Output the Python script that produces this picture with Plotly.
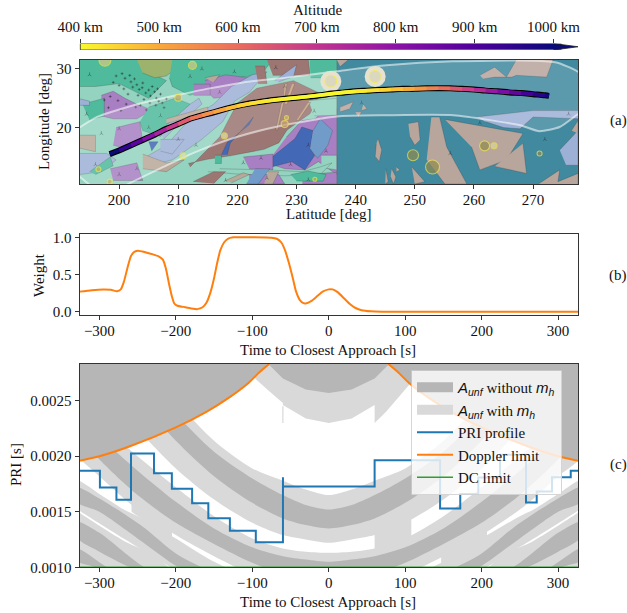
import plotly.graph_objects as go
from plotly.colors import sample_colorscale

W, H = 627, 613
FONT = "Liberation Serif"
AXC = "#333333"

# ---------- colour scale for altitude ----------
ALT_SCALE = [[0, "#f8f82e"], [0.08, "#fbd334"], [0.167, "#f9a83c"], [0.333, "#ea6c5e"],
             [0.5, "#c2358f"], [0.667, "#8c12a6"], [0.833, "#50009c"], [1, "#0a0a78"]]
CB_ALT = [400, 420, 440, 460, 480, 500, 520, 540, 560, 580, 600, 620, 640, 660, 680, 700, 720, 740, 760, 780,
          800, 820, 840, 860, 880, 900, 920, 940, 960, 980, 1000]
CB_TICKS = [400, 500, 600, 700, 800, 900, 1000]
CB_LABELS = ["400 km", "500 km", "600 km", "700 km", "800 km", "900 km", "1000 km"]

# ---------- panel (a): track ----------
TRK_LAT = [198.4, 200, 202, 204, 206, 208, 210, 212, 214, 216, 218, 220, 222, 224, 226, 228, 230, 232, 234, 236,
           238, 240, 242, 244, 246, 248, 250, 252, 254, 256, 258, 260, 262, 264, 266, 268, 270, 272, 272.7]
TRK_LON = [15.5, 16.1, 17.0, 17.9, 18.8, 19.8, 20.6, 21.5, 22.1, 22.6, 23.2, 23.7, 24.1, 24.4, 24.7, 24.9, 25.1,
           25.3, 25.5, 25.8, 26.0, 26.2, 26.3, 26.4, 26.5, 26.6, 26.6, 26.7, 26.7, 26.7, 26.6, 26.5, 26.3, 26.2,
           26.0, 25.9, 25.7, 25.5, 25.4]
TRK_ALT = [1000, 940, 880, 810, 750, 690, 630, 580, 540, 505, 475, 450, 430, 420, 410, 402, 400, 400, 400, 401,
           405, 415, 430, 450, 470, 500, 530, 565, 600, 640, 680, 730, 780, 830, 870, 920, 960, 990, 1000]

SWATH_UP_LAT = [193, 193.4, 196.2, 203.5, 209.7, 214.8, 221, 228.9, 236.8, 245.2, 256.5, 270, 274, 277.3, 278]
SWATH_UP_LON = [19.9, 20.1, 21.8, 24.1, 25.5, 26.6, 27.7, 28.6, 29.6, 30.6, 31.3, 31.4, 31.1, 29.7, 29.2]
SWATH_LO_LAT = [278, 277.3, 274.5, 271.1, 267.8, 256.5, 245.2, 236.8, 227.8, 219.9, 213.1, 207.5, 201.9, 200, 196, 193.4, 193]
SWATH_LO_LON = [22.6, 22.1, 20.1, 19.4, 20.4, 22.1, 22.1, 21.9, 20.4, 18.4, 15.9, 13.3, 10.6, 9.6, 9.6, 11.6, 11.9]

# polygons: colour, lat list, lon list
C_MINT, C_GREEN, C_PURP, C_PERI, C_TAN, C_BROWN = "#93d3bf", "#4fbb9c", "#a77fc2", "#9db0d5", "#b8a899", "#9b7672"
C_DBLUE, C_LBLUE, C_OLIVE, C_TEAL, C_ISL = "#4368b6", "#719cc9", "#9db36d", "#40899f", "#b8a59c"
C_ORNG = "#c9a27f"
MAP_POLYS = [
    (C_MINT, [193, 236.8, 236.8, 193], [10, 10, 32, 32]),
    (C_TEAL, [236.8, 278, 278, 236.8], [10, 10, 32, 32]),
    (C_GREEN, [193.3, 203, 206, 208, 205, 200, 196, 193.3], [31.6, 31.6, 29, 28, 25, 27.5, 27, 27]),
    (C_OLIVE, [203, 209.8, 209.5, 208, 206, 204], [31.6, 31.6, 30, 28.8, 28.5, 29.3]),
    (C_GREEN, [209, 226, 224, 220, 215, 212, 209, 208.5], [31.6, 31.6, 29, 28.5, 26.5, 25.5, 27, 28.5]),
    (C_PURP, [197, 199, 201, 203, 205.5, 203, 199, 197], [25.5, 26.2, 25, 24, 23, 21.5, 21.5, 22]),
    (C_GREEN, [205, 209.5, 212, 209, 207, 204, 203.5], [23.5, 25, 24, 21, 18.5, 19.5, 21]),
    (C_GREEN, [193.8, 197.5, 197.5, 195], [24, 25, 22, 21.3]),
    (C_PERI, [193.4, 195, 195, 193.4], [24.9, 24.5, 23.8, 23.8]),
    (C_PURP, [214.5, 218, 221.8, 221, 216, 214.5], [28, 29, 28.5, 25.5, 25, 26.5]),
    (C_PURP, [212.6, 215.4, 215.4, 212.6], [27.4, 27.4, 25.5, 25.5]),
    (C_TAN, [214.5, 217, 216], [28.5, 29, 27.7]),
    (C_BROWN, [212, 214.8, 217, 220, 223.3, 229.5, 234, 232.3, 228.4, 227, 224.5, 218.8, 214.9, 211.7],
     [13.3, 16.2, 18.4, 24.2, 26.7, 28, 25.8, 22.4, 19.6, 17.4, 16.3, 15.2, 14.6, 13.9]),
    (C_PERI, [204.5, 208, 212, 216, 219, 222.5, 225, 222, 219.5, 217.5, 214, 209, 205],
     [15, 17, 21.5, 24, 27, 29, 29.5, 26, 24.5, 21, 18, 14.5, 13.5]),
    (C_PERI, [207, 212, 213.5, 214, 210, 207.5], [19.5, 24, 25, 24, 20.5, 18]),
    (C_TAN, [208, 215, 215, 208], [21.5, 23.5, 22.7, 20.7]),
    (C_DBLUE, [217.3, 218.3, 222, 222.7, 220.5, 218.8, 218.3], [15.4, 17.5, 20.5, 21.8, 19.3, 17.4, 15.4]),
    (C_PURP, [228.3, 230.9, 233.1, 235.4, 236.8, 236.8, 233.7, 231.4, 228, 225],
     [18.4, 21.2, 21.5, 23.5, 23.2, 12, 14.2, 12.8, 13, 14]),
    (C_DBLUE, [225.5, 228.6, 229.7, 230.9, 232.8, 232.3, 233.1, 231.4, 229.2, 225.8],
     [14.7, 17.3, 18.1, 20.1, 19.5, 16.4, 15.3, 12.8, 14.2, 13.3]),
    (C_LBLUE, [232.8, 234, 236.1, 235.3, 233.6, 233.1, 232.3], [19.5, 21.5, 19.5, 17, 14.8, 15.3, 16.4]),
    (C_MINT, [232, 236.8, 236.8, 233], [24.6, 25, 22.1, 22]),
    (C_MINT, [234.2, 236.8, 236.8, 234.2], [15.3, 15.3, 12.8, 13.2]),
    (C_MINT, [217, 225, 231, 234, 236, 234, 228, 220, 215], [13, 12.8, 12.5, 13.3, 14, 12, 11.8, 12.1, 12.5]),
    (C_PURP, [231, 236.8, 236.8, 231], [12, 12.4, 10.4, 10.4]),
    (C_GREEN, [230, 234.5, 235, 232, 229], [10.9, 10.9, 12, 12.6, 12]),
    (C_GREEN, [216.2, 217.3, 217.3, 216.2], [15.3, 15.3, 13.9, 13.9]),
    (C_BROWN, [212.5, 216, 218, 216], [10.8, 12.5, 12.5, 10.5]),
    (C_BROWN, [223, 224.6, 225, 223.5], [30.5, 30.5, 27.5, 27.5]),
    (C_BROWN, [225, 232, 232.3, 226], [31.6, 31.6, 28.9, 28.9]),
    (C_PERI, [226.3, 230, 229.5, 227], [28, 30.7, 28.7, 27.8]),
    (C_GREEN, [232.2, 236.8, 236.8, 232.4], [31.6, 31.6, 28.5, 28.5]),
    (C_ORNG, [228, 228.4, 227.9, 226.8, 226.5, 227.4, 227.8], [27.5, 27.5, 24.5, 19.6, 19.6, 24, 24.5]),
    (C_ORNG, [229.3, 229.7, 228.4, 228], [27.5, 27.5, 24, 24]),
    (C_ORNG, [232, 232.4, 230.3, 230], [24.3, 24.3, 21.2, 21.2]),
    (C_PURP, [199.5, 203.5, 204, 201, 199], [20, 21, 17.5, 16.5, 17]),
    (C_TAN, [193.3, 196, 196, 193.3], [18.7, 18.7, 15.9, 16.5]),
    (C_PERI, [193.3, 197.9, 199.5, 197, 193.3], [15.6, 15.6, 14.5, 12.5, 12]),
    (C_DBLUE, [205, 206.6, 205.5], [17.6, 17.6, 16]),
    (C_PERI, [207, 211, 209, 207], [18, 18, 15.5, 16]),
    (C_TAN, [204, 208, 211, 208, 204], [15.5, 14, 14.5, 12.5, 13]),
    (C_GREEN, [195, 198.5, 199, 196], [12.5, 15, 13.5, 12]),
    (C_PURP, [198.5, 203, 204, 199], [13, 14, 11, 11]),
    (C_PURP, [221, 226, 226, 222], [15, 15.5, 12.8, 13]),
    (C_PURP, [222, 228, 227, 222], [10.4, 10.4, 12, 12]),
    (C_LBLUE, [223, 225.5, 223.5, 221.5], [13, 13, 10.4, 10.4]),
    (C_TAN, [225.2, 227, 226, 224.5], [12.5, 12.5, 10.4, 10.4]),
    (C_TAN, [219, 222, 221, 218], [10.6, 12, 12.3, 11]),
    (C_ISL, [261, 263.5, 265.5, 267.2, 273.4, 272.3, 267.2, 266.4, 263.5, 261.6],
     [28.9, 30.3, 28.6, 31.6, 31.6, 28.6, 28.9, 28.6, 28.6, 28.3]),
    (C_ISL, [255.1, 268.3, 265.5, 261, 259.6], [21.4, 19, 14.5, 12.8, 16.7]),
    (C_ISL, [268.3, 268.9, 263.5], [17.3, 12.2, 13.4]),
    (C_ISL, [252.8, 254.2, 255.4, 258.8, 255.1, 252], [21.8, 21.8, 16.7, 10.4, 10.4, 14.5]),
    (C_ISL, [248.9, 250.6, 250.9, 250, 249.2], [20.7, 21, 17.9, 17, 18.4]),
    (C_ISL, [243.8, 244.4, 244, 243.3, 243.5], [18.1, 16.2, 14.2, 15.1, 17.3]),
    (C_ISL, [237.4, 239.6, 239, 237.4], [23.5, 24.4, 23.2, 22.7]),
    (C_ISL, [241.3, 241.9, 241], [24, 23.2, 22.9]),
    (C_ISL, [239.9, 241, 240.5], [22.7, 22.7, 21.8]),
    (C_ISL, [236.8, 238.8, 237.4], [31.6, 31.6, 30.4]),
    (C_ISL, [245.1, 245.5, 245], [13, 10.8, 10.4]),
    (C_ISL, [246.1, 246.8, 246.4, 245.9], [13, 11.6, 10.4, 11.6]),
    (C_ISL, [249.5, 251.7, 250], [13.3, 10.8, 10.4]),
    (C_ISL, [246.9, 247.5, 246.9], [13.3, 12.8, 12.5]),
    (C_ISL, [270.9, 274.5, 274.2, 277.6, 277.6], [10.4, 12.8, 10.8, 12.2, 10.4]),
    (C_PERI, [274.5, 277.6, 277.6, 275.6], [16.2, 19.5, 13.6, 13.6]),
    (C_ISL, [276.5, 277.6, 277.6], [19.5, 21.2, 19]),
    (C_PERI, [260.4, 270, 278, 278, 270, 267.8, 265, 262], [21.8, 22.9, 22.9, 21.5, 21.8, 19.8, 20, 21]),
]
CRATER_LAT = [197.6, 212.4, 210, 217.8, 210.8, 196.5, 198.4, 228.3, 228, 233.1, 249.7, 253, 261.8, 263.4, 271.1]
CRATER_LON = [31.5, 30.6, 25.1, 18.6, 15.2, 12.9, 10.8, 21.7, 20.6, 11.2, 15.3, 13.3, 16.9, 16.9, 15.6]
CRATER_SIZE = [12, 8, 7, 6, 6, 5, 5, 4, 7, 4, 11, 14, 10, 6, 5]
CRATER_FILL = ["#d8c880", "#d8c880", "#c8a860", "#e0e0b0", "#e0e0b0", "#c8b060", "#c8b060", "#d0b070", "#c8a070",
               "#b8b050", "#8f8a50", "#8f8a50", "#8f8a50", "#d8d8a0", "#8f8a50"]
HALO_LAT = [235.8, 243.3]
HALO_LON = [27.9, 28.7]
STIP_LAT = [199.5, 200.5, 201, 201.8, 202, 202.6, 203, 203.4, 203.9, 204, 204.5, 205, 205.3, 205.6, 206, 206.3,
            206.7, 207, 207.3, 199, 200, 200.8, 201.5, 202.3, 203.2, 204.2, 205.2, 206.2, 207.6, 208, 198.5, 199.8,
            201.2, 202.8, 204.6, 206.5, 197.5, 198.2, 200.3, 203.6]
STIP_LON = [28.8, 29.2, 28.4, 28.9, 27.8, 28.3, 27.3, 26.5, 26.8, 27.6, 25.9, 26.4, 25.4, 27, 26.1, 25, 24.5, 25.7,
            24.2, 27.7, 27.2, 26.6, 25.7, 26.9, 25.5, 24.8, 24.2, 23.8, 23.4, 24.9, 25.3, 24.6, 24, 23.5, 23, 26.6,
            24.7, 23.4, 22.9, 23.8]
TICK_LAT = [195, 194.5, 197, 200, 205, 207, 214, 217, 219.5, 222, 225, 229, 232, 235, 233, 228, 226.5, 221,
            218, 212, 203, 200, 196, 261, 256, 272, 276, 241, 232, 213, 210, 224]
TICK_LON = [29, 22.3, 19, 19.8, 20, 22, 30, 26, 29.5, 24.3, 11.4, 13.7, 17, 16, 22.8, 27, 30.2, 14, 11, 28.7, 13,
            12, 13.7, 20.8, 15.6, 18, 22.3, 24.2, 11.1, 17, 18, 14.8]

# ---------- panel (b) ----------
W_T = [-326, -310, -295, -285, -277, -272, -268, -263, -259, -255, -250, -240, -230, -222, -217, -213, -209, -205,
       -202, -198, -190, -180, -172, -165, -160, -155, -150, -146, -142, -137, -132, -125, -100, -75, -68, -62, -57,
       -52, -47, -43, -38, -33, -29, -22, -15, -8, 0, 5, 12, 20, 28, 35, 43, 55, 70, 150, 326]
W_V = [.27, .29, .30, .295, .275, .30, .40, .60, .74, .80, .82, .80, .77, .74, .70, .58, .38, .20,
       .11, .08, .065, .045, .035, .06, .12, .25, .45, .65, .82, .93, .98, 1.0, 1.0, .995, .98, .93, .82,
       .65, .45, .28, .16, .115, .115, .15, .21, .27, .30, .30, .26, .18, .10, .05, .02, .005, 0, 0, 0]

# ---------- panel (c) ----------
PRI_T = [-326, -299.3, -277.7, -258.6, -228.6, -205.2, -178.7, -157.5, -129.3, -95.4, -59.9, 60, 145.6, 172, 195.6, 224, 258, 272, 292, 316.5, 326]
PRI_V = [.001868, .001718, .001607, .002024, .001847, .001706, .001577, .001441, .00133, .001225, .001727, .001964,
         .001529, .00166, .001808, .002012, .001583, .001682, .001811, .001868, .001868]
PRI_SPIKE_T = -59.9
PRI_SPIKE_TOP = .00181

DOPP_ABS_T = [78, 90, 105, 130, 160, 200, 260, 300, 326]
DOPP_V = [.00283, .00276, .00266, .00253, .00240, .00226, .00209, .00200, .00196]

T_GRID = [0, 30, 60, 100, 150, 200, 250, 300, 330]
A_LIGHT_TOP = [.00165, .00170, .00178, .00189, .00214, .00250, .00292, .0034, .0037]
A_DARK_TOP = [.00152, .00156, .00165, .00180, .00204, .00238, .00278, .0032, .0035]
A_DARK_BOT = [.00135, .00138, .00144, .00158, .00182, .00214, .00252, .0029, .0032]
A_LIGHT_BOT = [.00122, .00125, .00129, .00140, .00161, .00189, .00224, .00261, .0029]
B_LIGHT_TOP = [.00113, .00114, .00117, .00126, .00146, .00172, .00200, .00230, .0025]
B_DARK_TOP = [.00105, .00107, .00110, .00118, .00135, .00159, .00187, .00218, .0024]
B_DARK_BOT = [.00090, .00092, .00094, .00104, .00121, .00140, .00165, .00197, .0022]
T_B2 = [0, 100, 150, 200, 250, 268, 300, 330]
B_LIGHT_BOT = [.0008, .00094, .00110, .00129, .00152, .00162, .00182, .0020]
T_C = [100, 150, 200, 250, 268, 300, 330]
C_LIGHT_TOP = [.00090, .00105, .00126, .00146, .00152, .00166, .00178]
T_C2 = [100, 200, 230, 266, 326, 330]
C_LIGHT_BOT = [.0008, .00098, .00110, .00125, .00151, .00153]
D_LIGHT_TOP = [.0008, .00096, .00112, .00123, .00149, .00151]
T_C3 = [150, 197, 244, 300, 330]
C_DARK_TOP = [.00095, .00111, .00137, .00162, .00172]
C_DARK_BOT = [.00085, .00100, .00123, .00150, .00159]
T_D = [200, 241, 300, 330]
D_DARK_TOP = [.00090, .00100, .00131, .00141]
T_D2 = [220, 260, 300, 330]
D_DARK_BOT = [.00090, .00100, .00114, .00127]
T_E = [260, 290, 330]
E_DARK_TOP = [.00090, .00100, .00117]
T_E2 = [280, 305, 330]
E_DARK_BOT = [.00090, .00100, .00106]

ARC_T = [-100, -95, -77, -60, -60, -30, 0, 30, 60, 60, 75, 93, 105, 120]
ARC_LOW = [.00275, .00269, .00258, .00248, .00246, .00234, .00230, .00234, .00246, .00230, .00240, .00254, .00264, .0028]
DARK_ARC_T = [-110, -79, -60, -30, 0, 30, 60, 79, 110]
DARK_ARC_LOW = [.0031, .00283, .00270, .00260, .00257, .00260, .00270, .00283, .0031]

# places where the white gaps between bands are filled
PATCH_T = [[60, 60, 108, 108], [-258, -258, -205, -205], [147, 147, 207, 207]]
PATCH_V = [[.00115, .0013, .00143, .00125], [.00150, .00165, .00137, .00124], [.00102, .00114, .00136, .00126]]

LIGHT, DARK = "#d9d9d9", "#b6b6b6"

fig = go.Figure()


def poly(x, y, col, xa, ya, line=None, lw=0, smooth=False):
    ln = dict(width=lw, color=line or col)
    if smooth:
        ln.update(shape="spline", smoothing=0.8)
    fig.add_trace(go.Scatter(x=x, y=y, mode="lines", fill="toself", fillcolor=col, line=ln, xaxis=xa, yaxis=ya,
                             showlegend=False, hoverinfo="skip"))


# colourbar
fig.add_trace(go.Heatmap(x=CB_ALT, y=[0, 1], z=[CB_ALT, CB_ALT], colorscale=ALT_SCALE, zmin=400, zmax=1000,
                         showscale=False, xaxis="x4", yaxis="y4", hoverinfo="skip", zsmooth="best"))
poly([1000, 1031, 1000], [1, .5, 0], "#0a0a78", "x4", "y4")
fig.add_trace(go.Scatter(x=[400, 1000, 1031, 1000, 400, 400], y=[1, 1, .5, 0, 0, 1], mode="lines",
                         line=dict(color="#222", width=0.8), xaxis="x4", yaxis="y4", showlegend=False, hoverinfo="skip"))

# map
for col, la, lo in MAP_POLYS:
    poly(la, lo, col, "x", "y", line="rgba(50,50,50,0.45)", lw=0.5)
fig.add_trace(go.Scatter(x=STIP_LAT, y=STIP_LON, mode="markers", marker=dict(size=2, color="rgba(30,30,30,.7)", symbol="cross-thin", line=dict(width=.6, color="rgba(30,30,30,.7)")),
                         xaxis="x", yaxis="y", showlegend=False, hoverinfo="skip"))
fig.add_trace(go.Scatter(x=TICK_LAT, y=TICK_LON, mode="markers", marker=dict(size=3, color="rgba(30,30,30,.7)", symbol="y-up-open", line=dict(width=.5, color="rgba(30,30,30,.7)")),
                         xaxis="x", yaxis="y", showlegend=False, hoverinfo="skip"))
fig.add_trace(go.Scatter(x=SWATH_UP_LAT + SWATH_LO_LAT, y=SWATH_UP_LON + SWATH_LO_LON, mode="lines", fill="toself",
                         fillcolor="rgba(255,255,255,0.14)", line=dict(color="rgba(255,255,255,0.55)", width=2, shape="spline", smoothing=0.6),
                         xaxis="x", yaxis="y", showlegend=False, hoverinfo="skip"))
fig.add_trace(go.Scatter(x=HALO_LAT, y=HALO_LON, mode="markers", marker=dict(size=21, color="#e6e2cf", line=dict(width=0)),
                         xaxis="x", yaxis="y", showlegend=False, hoverinfo="skip"))
fig.add_trace(go.Scatter(x=HALO_LAT, y=HALO_LON, mode="markers", marker=dict(size=12, color="#dcd8c0", line=dict(width=1, color="#f2ec5a")),
                         xaxis="x", yaxis="y", showlegend=False, hoverinfo="skip"))
fig.add_trace(go.Scatter(x=CRATER_LAT, y=CRATER_LON, mode="markers",
                         marker=dict(size=CRATER_SIZE, color=CRATER_FILL, line=dict(width=1.1, color="#efe64e")),
                         xaxis="x", yaxis="y", showlegend=False, hoverinfo="skip"))
fig.add_trace(go.Scatter(x=TRK_LAT, y=TRK_LON, mode="lines", line=dict(color="black", width=6, shape="spline"),
                         xaxis="x", yaxis="y", showlegend=False, hoverinfo="skip"))
seg_cols = sample_colorscale(ALT_SCALE, [(a - 400) / 600 for a in TRK_ALT])
for i in range(len(TRK_LAT) - 1):
    fig.add_trace(go.Scatter(x=TRK_LAT[i:i + 3], y=TRK_LON[i:i + 3], mode="lines", line=dict(color=seg_cols[i], width=3.6),
                             xaxis="x", yaxis="y", showlegend=False, hoverinfo="skip"))

# weight
fig.add_trace(go.Scatter(x=W_T, y=W_V, mode="lines", line=dict(color="#ff7f0e", width=2, shape="spline", smoothing=0.5),
                         xaxis="x2", yaxis="y2", showlegend=False, hoverinfo="skip"))


def band(t_up, up, t_lo, lo, col):
    """a band read on one side of closest approach, drawn on both sides"""
    if t_up[0] > 0:
        for s in (-1, 1):
            poly([s * t for t in t_up] + [s * t for t in t_lo[::-1]], up + lo[::-1], col, "x3", "y3", smooth=True)
        return
    tu = [-t for t in t_up[::-1]] + [t for t in t_up if t > 0]
    vu = up[::-1] + [v for t, v in zip(t_up, up) if t > 0]
    tl = [-t for t in t_lo[::-1]] + [t for t in t_lo if t > 0]
    vl = lo[::-1] + [v for t, v in zip(t_lo, lo) if t > 0]
    poly(tu + tl[::-1], vu + vl[::-1], col, "x3", "y3", smooth=True)


# light layers
band(T_GRID, A_LIGHT_TOP, T_GRID, A_LIGHT_BOT, LIGHT)
band(T_GRID, B_LIGHT_TOP, T_B2, B_LIGHT_BOT, LIGHT)
band(T_C, C_LIGHT_TOP, T_C2, C_LIGHT_BOT, LIGHT)
band(T_C2, D_LIGHT_TOP, T_C2, [.0007] * len(T_C2), LIGHT)
poly(ARC_T + [120, -100], ARC_LOW + [.0042, .0042], LIGHT, "x3", "y3")
for px_, py_ in zip(PATCH_T, PATCH_V):
    poly(px_, py_, LIGHT, "x3", "y3")
# dark layers
band(T_GRID, A_DARK_TOP, T_GRID, A_DARK_BOT, DARK)
band(T_GRID, B_DARK_TOP, T_GRID, B_DARK_BOT, DARK)
band(T_C3, C_DARK_TOP, T_C3, C_DARK_BOT, DARK)
band(T_D, D_DARK_TOP, T_D2, D_DARK_BOT, DARK)
band(T_E, E_DARK_TOP, T_E2, E_DARK_BOT, DARK)
poly(DARK_ARC_T + [110, -110], DARK_ARC_LOW + [.0042, .0042], DARK, "x3", "y3")
# outside the Doppler limit
left_t = [-t for t in DOPP_ABS_T[::-1]]
left_v = DOPP_V[::-1]
poly(left_t + [-78, -350, -350], left_v + [.0042, .0042, left_v[0]], DARK, "x3", "y3")
poly(DOPP_ABS_T + [350, 350, 78], DOPP_V + [DOPP_V[-1], .0042, .0042], DARK, "x3", "y3")
fig.add_trace(go.Scatter(x=[-60, -60], y=[.0023, .00245], mode="lines", line=dict(color=LIGHT, width=1.2),
                         xaxis="x3", yaxis="y3", showlegend=False, hoverinfo="skip"))

# legend entries and curves
MATH = "font-family:'Liberation Sans';font-style:italic"
LEG_A = f"<span style=\"{MATH}\">A<sub>unf</sub></span>"
LEG_M = f"<span style=\"{MATH}\">m<sub>h</sub></span>"
for nm, c, r in ((f"{LEG_A} without {LEG_M}", DARK, 1), (f"{LEG_A} with {LEG_M}", LIGHT, 2)):
    fig.add_trace(go.Scatter(x=[-400, -399], y=[.0004, .0004], mode="lines",
                             line=dict(width=11, color=c), xaxis="x3", yaxis="y3", name=nm, legendrank=r, hoverinfo="skip"))
step_x, step_y = [], []
for i in range(len(PRI_T) - 1):
    step_x += [PRI_T[i], PRI_T[i + 1]]
    step_y += [PRI_V[i], PRI_V[i]]
    if PRI_T[i + 1] == PRI_SPIKE_T:
        step_x += [PRI_SPIKE_T]
        step_y += [PRI_SPIKE_TOP]
fig.add_trace(go.Scatter(x=step_x, y=step_y, mode="lines", line=dict(color="#1f77b4", width=2), name="PRI profile",
                         xaxis="x3", yaxis="y3", legendrank=3, hoverinfo="skip"))
fig.add_trace(go.Scatter(x=left_t, y=left_v, mode="lines", line=dict(color="#ff7f0e", width=2, shape="spline"),
                         name="Doppler limit", xaxis="x3", yaxis="y3", legendrank=4, hoverinfo="skip"))
fig.add_trace(go.Scatter(x=DOPP_ABS_T, y=DOPP_V, mode="lines", line=dict(color="#ff7f0e", width=2, shape="spline"),
                         showlegend=False, xaxis="x3", yaxis="y3", hoverinfo="skip"))
fig.add_trace(go.Scatter(x=[-326, 326], y=[.0010, .0010], mode="lines", line=dict(color="#2ca02c", width=1.5),
                         name="DC limit", xaxis="x3", yaxis="y3", legendrank=5, hoverinfo="skip"))


def dx(a, b):
    return [a / W, b / W]


def dy(top, bot):
    return [1 - bot / H, 1 - top / H]


X0, X1 = 79.5, 578
common = dict(showgrid=False, zeroline=False, showline=True, linecolor=AXC, linewidth=1, mirror=True, ticks="outside",
              ticklen=4, tickcolor=AXC, tickfont=dict(family=FONT, size=15, color="#111"), automargin=False)
fig.update_layout(
    template="none",
    width=W, height=H, margin=dict(l=0, r=0, t=0, b=0, pad=0), paper_bgcolor="white", plot_bgcolor="white",
    font=dict(family=FONT, size=15, color="#111"),
    xaxis=dict(domain=dx(X0, X1), range=[193.3, 277.6], anchor="y", tickvals=[200, 210, 220, 230, 240, 250, 260, 270], layer="above traces", ticklabelstandoff=-2, **common),
    yaxis=dict(domain=dy(59.5, 184), range=[10.4, 31.6], anchor="x", tickvals=[20, 30], layer="above traces", **common),
    xaxis2=dict(domain=dx(X0, X1), range=[-326, 326], anchor="y2", tickvals=[-300, -200, -100, 0, 100, 200, 300], ticklabelstandoff=-2, **common),
    yaxis2=dict(domain=dy(234, 315), range=[-0.044, 1.044], anchor="x2", tickvals=[0, .5, 1], tickformat=".1f", **common),
    xaxis3=dict(domain=dx(X0, X1), range=[-326, 326], anchor="y3", tickvals=[-300, -200, -100, 0, 100, 200, 300], layer="above traces", ticklabelstandoff=-2, **common),
    yaxis3=dict(domain=dy(364, 567.3), range=[.0010, .00283], anchor="x3", tickvals=[.001, .0015, .002, .0025], tickformat=".4f", layer="above traces", **common),
    xaxis4=dict(domain=dx(X0, X1), range=[399, 1031], anchor="y4", side="top", tickvals=CB_TICKS, ticktext=CB_LABELS,
                showgrid=False, zeroline=False, showline=False, ticks="outside", ticklen=4, tickcolor=AXC, automargin=False,
                ticklabelstandoff=1, tickfont=dict(family=FONT, size=15, color="#111")),
    yaxis4=dict(domain=dy(43.5, 50), range=[0, 1], anchor="x4", visible=False),
    legend=dict(x=411 / W, y=1 - 370 / H, xanchor="left", yanchor="top", bgcolor="rgba(255,255,255,0.8)",
                bordercolor="rgba(204,204,204,0.8)", borderwidth=1, font=dict(family=FONT, size=15, color="#111"),
                itemwidth=36, entrywidth=120, entrywidthmode="pixels", traceorder="normal"),
    showlegend=True,
)
ANN = [
    ("Altitude", 318, 10, 0), ("Latitude [deg]", 328, 214, 0), ("Longitude [deg]", 44, 122, -90),
    ("Time to Closest Approach [s]", 328, 350, 0), ("Weight", 39, 275, -90),
    ("Time to Closest Approach [s]", 328, 602, 0), ("PRI [s]", 16, 465, -90),
    ("(a)", 618, 120, 0), ("(b)", 618, 275, 0), ("(c)", 618, 464, 0),
]
fig.update_layout(annotations=[dict(text=t, x=x / W, y=1 - y / H, xref="paper", yref="paper", showarrow=False,
                                    textangle=a, font=dict(family=FONT, size=15, color="#111"), xanchor="center", yanchor="middle")
                               for t, x, y, a in ANN])
fig.write_html("out.html", config={"displayModeBar": False},
               post_script="document.body.style.margin='0';document.documentElement.style.overflow='hidden';")
